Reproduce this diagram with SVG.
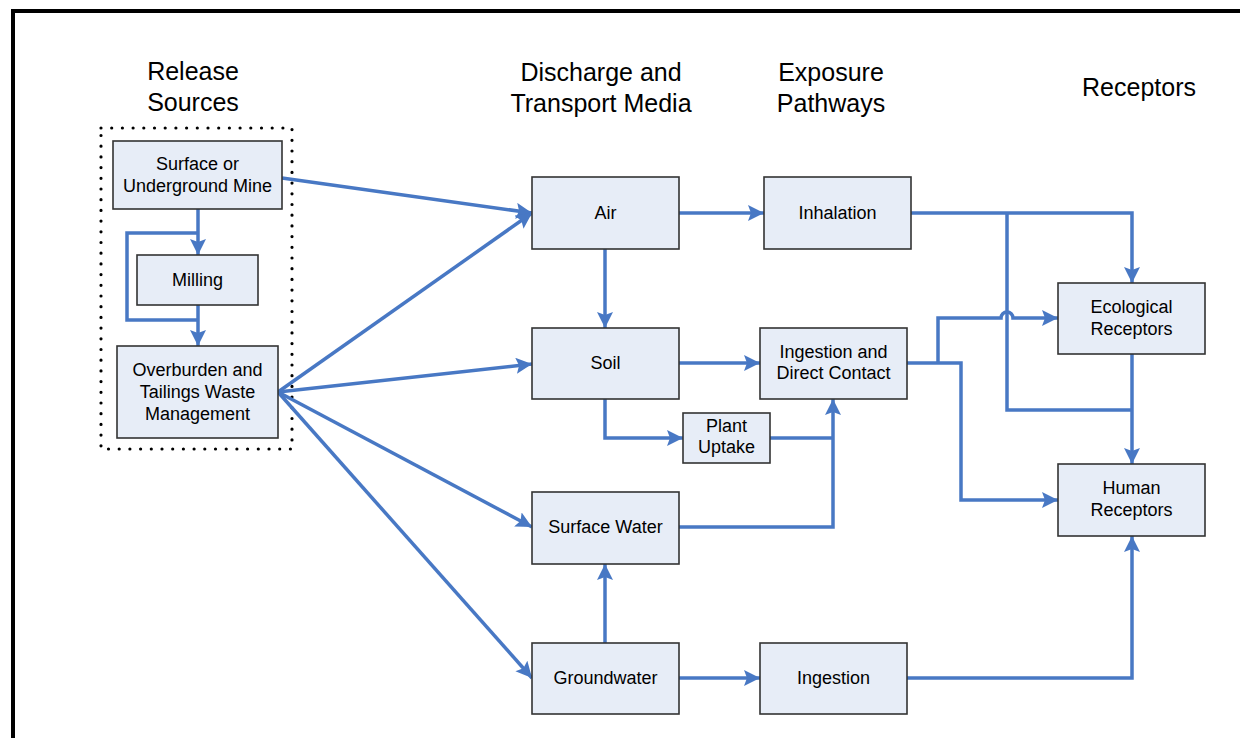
<svg xmlns="http://www.w3.org/2000/svg" width="1240" height="738" viewBox="0 0 1240 738">
<style>
.bx{fill:#E7EDF7;stroke:#333;stroke-width:1.6}
.t{font-family:"Liberation Sans",Arial,sans-serif;font-size:18px;fill:#000;text-anchor:middle}
.h{font-family:"Liberation Sans",Arial,sans-serif;font-size:25px;fill:#000;text-anchor:middle}
.c{fill:none;stroke:#4878C4;stroke-width:3.5;stroke-linejoin:miter}
.a{marker-end:url(#ah)}
</style>
<defs>
<marker id="ah" markerUnits="userSpaceOnUse" markerWidth="17" markerHeight="17" refX="16" refY="8" orient="auto" viewBox="0 0 17 17">
<path d="M0,0 L16,8 L0,16 L3,8 z" fill="#4878C4"/>
</marker>
</defs>
<rect width="1240" height="738" fill="#fff"/>
<path d="M13,738 V11 H1240" fill="none" stroke="#000" stroke-width="4"/>
<g id="headers">
<text class="h" x="193" y="80">Release</text>
<text class="h" x="193" y="111">Sources</text>
<text class="h" x="601" y="81">Discharge and</text>
<text class="h" x="601" y="112">Transport Media</text>
<text class="h" x="831" y="81">Exposure</text>
<text class="h" x="831" y="112">Pathways</text>
<text class="h" x="1139" y="96">Receptors</text>
</g>
<rect id="release-group" x="101" y="128" width="191" height="321" fill="none" stroke="#000" stroke-width="3.2" stroke-dasharray="0 10.7" stroke-linecap="round"/>
<g id="connectors">
<path class="c a" d="M198,209 V255"/>
<path class="c" d="M198,233 H127 V320 H198"/>
<path class="c a" d="M198,305 V346"/>
<path class="c a" d="M282,178 L532,213"/>
<path class="c a" d="M278,392 L532,213"/>
<path class="c a" d="M278,392 L532,364"/>
<path class="c a" d="M278,392 L532,527"/>
<path class="c a" d="M278,392 L532,678"/>
<path class="c a" d="M679,213 H764"/>
<path class="c a" d="M605,249 V328"/>
<path class="c a" d="M679,363 H760"/>
<path class="c a" d="M605,399 V438 H683"/>
<path class="c" d="M770,438 H833"/>
<path class="c a" d="M679,527 H833 V399"/>
<path class="c a" d="M605,643 V564"/>
<path class="c a" d="M679,678 H760"/>
<path class="c a" d="M907,678 H1132 V536"/>
<path class="c a" d="M911,213 H1132 V283"/>
<path class="c" d="M1007,213 V410 H1132"/>
<path class="c a" d="M1132,354 V464"/>
<path class="c a" d="M907,363 H961 V500 H1058"/>
<path class="c a" d="M938,363 V318 H1001 A6,6 0 0 1 1013,318 H1058"/>
</g>
<g id="mine"><rect class="bx" x="113" y="141" width="169" height="68"/><text class="t" x="197.5" y="170">Surface or</text><text class="t" x="197.5" y="192">Underground Mine</text></g>
<g id="milling"><rect class="bx" x="137" y="255" width="121" height="50"/><text class="t" x="197.5" y="286">Milling</text></g>
<g id="overburden"><rect class="bx" x="117" y="346" width="161" height="92"/><text class="t" x="197.5" y="375.5">Overburden and</text><text class="t" x="197.5" y="397.5">Tailings Waste</text><text class="t" x="197.5" y="419.5">Management</text></g>
<g id="air"><rect class="bx" x="532" y="177" width="147" height="72"/><text class="t" x="605.5" y="219">Air</text></g>
<g id="soil"><rect class="bx" x="532" y="328" width="147" height="71"/><text class="t" x="605.5" y="369">Soil</text></g>
<g id="surface-water"><rect class="bx" x="532" y="492" width="147" height="72"/><text class="t" x="605.5" y="533">Surface Water</text></g>
<g id="groundwater"><rect class="bx" x="532" y="643" width="147" height="71"/><text class="t" x="605.5" y="684">Groundwater</text></g>
<g id="inhalation"><rect class="bx" x="764" y="177" width="147" height="72"/><text class="t" x="837.5" y="219">Inhalation</text></g>
<g id="ingestion-contact"><rect class="bx" x="760" y="328" width="147" height="71"/><text class="t" x="833.5" y="358">Ingestion and</text><text class="t" x="833.5" y="379">Direct Contact</text></g>
<g id="plant-uptake"><rect class="bx" x="683" y="413" width="87" height="50"/><text class="t" x="726.5" y="432">Plant</text><text class="t" x="726.5" y="453">Uptake</text></g>
<g id="ingestion"><rect class="bx" x="760" y="643" width="147" height="71"/><text class="t" x="833.5" y="684">Ingestion</text></g>
<g id="ecological"><rect class="bx" x="1058" y="283" width="147" height="71"/><text class="t" x="1131.5" y="313">Ecological</text><text class="t" x="1131.5" y="335">Receptors</text></g>
<g id="human"><rect class="bx" x="1058" y="464" width="147" height="72"/><text class="t" x="1131.5" y="494">Human</text><text class="t" x="1131.5" y="516">Receptors</text></g>
</svg>
